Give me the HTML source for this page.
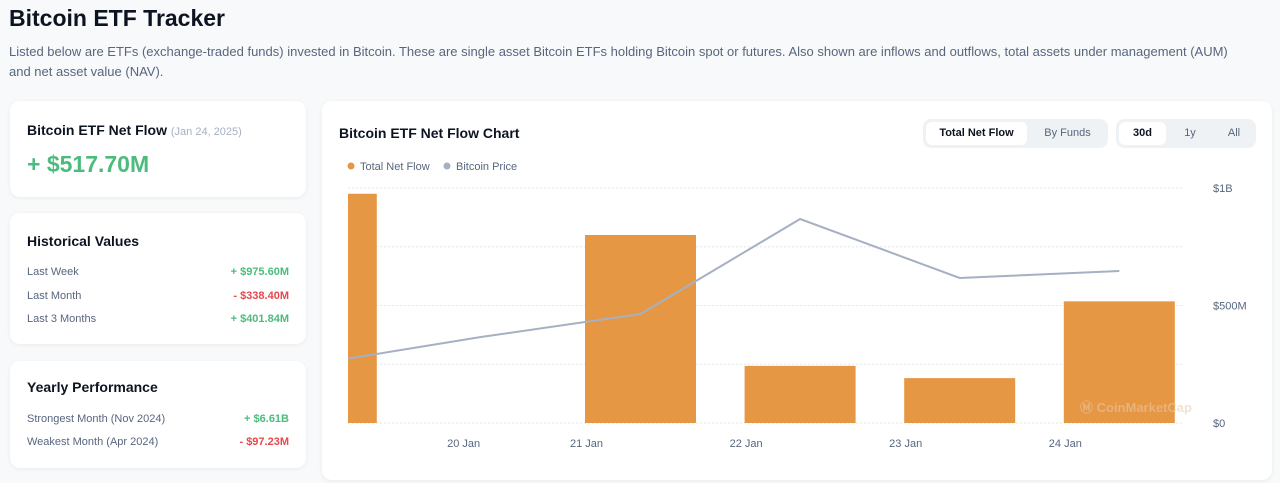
<!DOCTYPE html>
<html><head><meta charset="utf-8"><style>
*{box-sizing:border-box;margin:0;padding:0}
body{width:1280px;height:483px;overflow:hidden;background:#f8f9fa;font-family:"Liberation Sans",sans-serif;color:#0d1421;position:relative}
.abs{position:absolute}
.card{position:absolute;background:#fff;border-radius:10px;box-shadow:0 1px 4px rgba(0,0,0,.06)}
.row{position:absolute;left:17px;right:17px;font-size:11px;color:#58667e;display:flex;justify-content:space-between}
.g{color:#4cbc7c;font-weight:bold}.r{color:#e5484d;font-weight:bold}
.tg{position:absolute;background:#eff2f5;border-radius:8px;height:29px;top:119px}
.tb{position:absolute;top:3px;height:23px;border-radius:6px;font-size:11px;line-height:23px;text-align:center;color:#58667e}
.tb.on{background:#fff;color:#0d1421;font-weight:bold}
</style></head><body>
<div class="abs" style="left:9px;top:5px;font-size:23px;font-weight:bold">Bitcoin ETF Tracker</div>
<div class="abs" style="left:9px;top:42px;width:1222px;font-size:13px;line-height:20px;color:#58667e">Listed below are ETFs (exchange-traded funds) invested in Bitcoin. These are single asset Bitcoin ETFs holding Bitcoin spot or futures. Also shown are inflows and outflows, total assets under management (AUM) and net asset value (NAV).</div>

<div class="card" style="left:10px;top:101px;width:296px;height:96px">
<div class="abs" style="left:17px;top:21px;font-size:14px;font-weight:bold">Bitcoin ETF Net Flow <span style="font-size:11px;font-weight:normal;color:#a6b0c3">(Jan 24, 2025)</span></div>
<div class="abs" style="left:17px;top:50px;font-size:23px;font-weight:bold;color:#4cbc7c">+ $517.70M</div>
</div>

<div class="card" style="left:10px;top:213px;width:296px;height:131px">
<div class="abs" style="left:17px;top:20px;font-size:14px;font-weight:bold">Historical Values</div>
<div class="row" style="top:53px"><span>Last Week</span><span class="g">+ $975.60M</span></div>
<div class="row" style="top:77px"><span>Last Month</span><span class="r">- $338.40M</span></div>
<div class="row" style="top:100px"><span>Last 3 Months</span><span class="g">+ $401.84M</span></div>
</div>

<div class="card" style="left:10px;top:361px;width:296px;height:107px">
<div class="abs" style="left:17px;top:18px;font-size:14px;font-weight:bold">Yearly Performance</div>
<div class="row" style="top:52px"><span>Strongest Month (Nov 2024)</span><span class="g">+ $6.61B</span></div>
<div class="row" style="top:75px"><span>Weakest Month (Apr 2024)</span><span class="r">- $97.23M</span></div>
</div>

<div class="card" style="left:322px;top:101px;width:950px;height:379px"></div>
<div class="abs" style="left:339px;top:125px;font-size:14px;font-weight:bold">Bitcoin ETF Net Flow Chart</div>
<div class="tg" style="left:923px;width:185px">
<div class="tb on" style="left:3px;width:101px">Total Net Flow</div>
<div class="tb" style="left:104px;width:81px">By Funds</div>
</div>
<div class="tg" style="left:1116px;width:140px">
<div class="tb on" style="left:3px;width:47px">30d</div>
<div class="tb" style="left:52px;width:44px">1y</div>
<div class="tb" style="left:96px;width:44px">All</div>
</div>

<svg class="abs" style="left:0;top:0" width="1280" height="483" id="chart">
<defs><clipPath id="pc"><rect x="348" y="150" width="860" height="280"/></clipPath></defs>
<g font-size="11" fill="#58667e">
<circle cx="351" cy="166" r="3.5" fill="#e69744"/><text x="360" y="170">Total Net Flow</text>
<circle cx="447" cy="166" r="3.5" fill="#a6b0c3"/><text x="456" y="170">Bitcoin Price</text>
</g>
<g id="grid"></g><g id="bars" clip-path="url(#pc)"></g><g id="line" clip-path="url(#pc)"></g><g id="axes"></g>
<text x="1080" y="412" font-size="13" font-weight="bold" fill="#e8c9a8" opacity="0.55">Ⓜ CoinMarketCap</text>
</svg>
<script>
const flowDays=[19,21,22,23,24];
const flowValues=[975.6,800,243,191,517.7];
const priceDays=[19,20,21,22,23,24];
const priceValues=[99000,100300,101450,106200,103250,103600];
const yTicks=[0,250,500,750,1000];
const yTickLabels=["$0","","$500M","","$1B"];
const xTickDays=[20.23,21,22,23,24];
const xTickLabels=["20 Jan","21 Jan","22 Jan","23 Jan","24 Jan"];
const NS="http://www.w3.org/2000/svg";
const xDay=d=>640.5+(d-21)*159.6;
const yFlow=v=>423-v*0.235;
const yPrice=p=>423-(p-96000)*0.02;
function mk(t,a,p){const e=document.createElementNS(NS,t);for(const k in a)e.setAttribute(k,a[k]);p.appendChild(e);return e;}
const grid=document.getElementById('grid'),axes=document.getElementById('axes');
yTicks.forEach((v,i)=>{
 const l=mk('line',{x1:348,x2:1182,y1:yFlow(v),y2:yFlow(v),stroke:'#e3e6ea','stroke-dasharray':'2,2'},grid);
 
 
 if(yTickLabels[i]){const t=mk('text',{x:1213,y:yFlow(v)+4,'font-size':11,fill:'#58667e'},axes);t.textContent=yTickLabels[i];
 
 }
});
xTickDays.forEach((d,i)=>{
 const t=mk('text',{x:xDay(d)-54,y:447,'font-size':11,fill:'#58667e','text-anchor':'middle'},axes);t.textContent=xTickLabels[i];
 
 
});
const bars=document.getElementById('bars');
flowDays.forEach((d,i)=>{
 const b=mk('rect',{x:xDay(d)-55.5,width:111,y:yFlow(flowValues[i]),height:yFlow(0)-yFlow(flowValues[i]),fill:'#e69744'},bars);
 
 
});
const pts=priceDays.map((d,i)=>xDay(d)+','+yPrice(priceValues[i])).join(' ');
const pl=mk('polyline',{points:pts,fill:'none',stroke:'#a6b0c3','stroke-width':2},document.getElementById('line'));


</script>
</body></html>
